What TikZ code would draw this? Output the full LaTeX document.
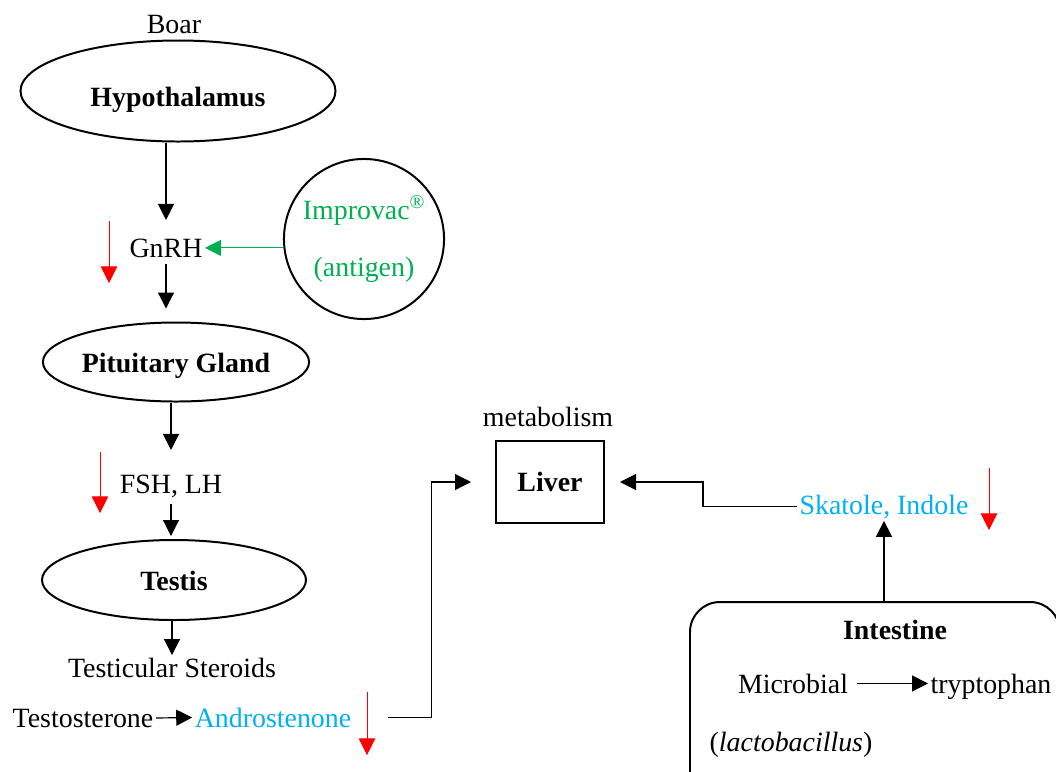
\documentclass[tikz,border=0pt]{standalone}
\usepackage{fontspec}
\setmainfont{Liberation Serif}
\usetikzlibrary{shapes.geometric,arrows.meta}
\definecolor{vacgreen}{RGB}{0,176,80}
\definecolor{odourblue}{RGB}{0,176,240}
\newcommand{\figfont}{\fontsize{23.8}{28}\selectfont}
\tikzset{
  organ/.style={ellipse,draw,line width=1.7pt,inner sep=0pt,font=\figfont\bfseries,text height=0.75cm,text depth=0.15cm},
  txt/.style={inner sep=2pt,font=\figfont,anchor=base},
  flow/.style={-{Triangle[length=0.48cm,width=0.48cm]},line width=1pt},
  drop/.style={red,line width=0.8pt,-{Triangle[length=0.5cm,width=0.5cm]}},
}
\begin{document}
\begin{tikzpicture}[x=0.03cm,y=-0.03cm]
            \useasboundingbox (0,0) rectangle (1056,771);
            \clip (0,0) rectangle (1056,771);
            % left column
            \node[txt] (boar) at (174,33) {Boar};
            \node[organ,minimum width=9.45cm,minimum height=3.03cm,text height=1.1cm] (hypo) at (178,91) {Hypothalamus};
            \node[txt] (gnrh) at (166,257) {GnRH};
            \node[circle,draw,line width=1.7pt,minimum size=4.7cm,align=center,text=vacgreen,font=\fontsize{23.8}{48.6}\selectfont] (vac) at (364,239) {Improvac\textsuperscript{®}\\(antigen)};
            \node[organ,minimum width=7.95cm,minimum height=2.37cm] (pit) at (176,362) {Pituitary Gland};
            \node[txt] (fsh) at (171,493) {FSH, LH};
            \node[organ,minimum width=7.92cm,minimum height=2.4cm] (testis) at (174,580) {Testis};
            \node[txt] (steroid) at (172,677) {Testicular Steroids};
            \node[txt] (testo) at (83,727) {Testosterone};
            \node[txt,text=odourblue] (andro) at (273,727) {Androstenone};
            % liver and intestine
            \node[txt] (metab) at (548,426) {metabolism};
            \node[draw,line width=1.7pt,minimum width=3.24cm,minimum height=2.46cm,font=\figfont\bfseries] (liver) at (550,482) {Liver};
            \node[txt,text=odourblue] (skat) at (884,514) {Skatole, Indole};
            \node[draw,line width=1.7pt,rounded corners=0.9cm,minimum width=11.1cm,minimum height=6cm] (gut) at (875,702) {};
            \node[txt,font=\figfont\bfseries] (gutname) at (895,639) {Intestine};
            \node[txt] (microbe) at (793,693) {Microbial};
            \node[txt] (trp) at (991,693) {tryptophan};
            \node[txt] (lacto) at (791,751) {(\textit{lactobacillus})};
            % connectors
            \draw[flow,shorten >=0.48cm] (hypo.south -| gnrh) -- (gnrh.north);
            \draw[flow,shorten <=0.12cm,shorten >=0.39cm] (gnrh.south) -- (pit.north -| gnrh);
            \draw[flow,shorten >=0.66cm] (pit.south -| fsh) -- (fsh.north);
            \draw[flow,shorten <=0.12cm,shorten >=0.09cm] (fsh.south) -- (testis.north -| fsh);
            \draw[flow] (testis.south -| steroid) -- (steroid.north);
            \draw[flow] (testo.east) -- (andro.west);
            \draw[flow,vacgreen] (vac.west |- gnrh.east) -- (gnrh.east);
            \draw[flow,shorten <=1.02cm,shorten >=0.72cm] (andro.east) -- ++(78,0) |- (liver.west);
            \draw[flow,shorten >=0.45cm] (skat.west) -- ++(-94,0) |- (liver.east);
            \draw[flow] (gut.north -| skat) -- (skat.south);
            \draw[flow,shorten <=0.2cm] (microbe.east) -- (microbe.east -| trp.west);
            % decreases
            \draw[drop] (109,221) -- (109,283);
            \draw[drop] (100,452) -- (100,513);
            \draw[drop] (367,692) -- (367,755);
            \draw[drop] (989,468) -- (989,530);
        \end{tikzpicture}
\end{document}
